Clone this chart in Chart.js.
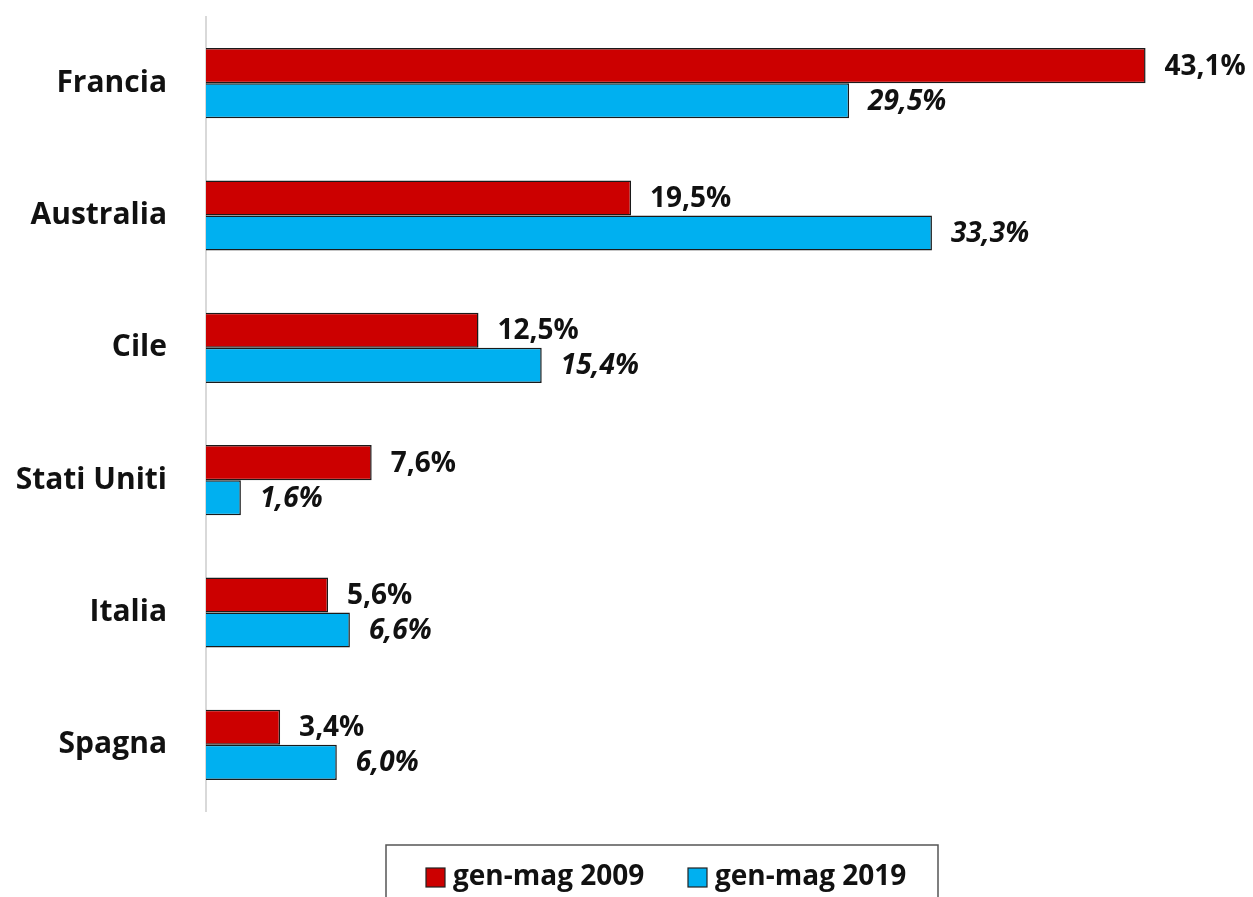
<!DOCTYPE html>
<html>
<head>
<meta charset="utf-8">
<script src="https://cdn.jsdelivr.net/npm/chart.js@4/dist/chart.umd.min.js"></script>
<style>
  html, body { margin: 0; padding: 0; background: #fff; }
  #wrap { width: 1253px; height: 897px; }
</style>
</head>
<body>
<div id="wrap"><canvas id="chart"></canvas></div>
<script>
const paesi = ['Francia', 'Australia', 'Cile', 'Stati Uniti', 'Italia', 'Spagna']
const quota2009 = [43.1, 19.5, 12.5, 7.6, 5.6, 3.4]
const quota2019 = [29.5, 33.3, 15.4, 1.6, 6.6, 6.0]
const serie = ['gen-mag 2009', 'gen-mag 2019']
const colori = ['#cc0000', '#00b0f0']

const FONT = "'Open Sans', sans-serif"

const fmt = v => v.toFixed(1).replace('.', ',') + '%'

// etichette a destra delle barre
const valueLabels = {
    id: 'valueLabels',
    afterDatasetsDraw(chart) {
        const ctx = chart.ctx
        ctx.save()
        chart.data.datasets.forEach((ds, i) => {
            const meta = chart.getDatasetMeta(i)
            ctx.font = (i === 1 ? 'italic ' : '') + 'bold 28px ' + FONT
            ctx.fillStyle = '#111'
            ctx.textAlign = 'left'
            ctx.textBaseline = 'middle'
            meta.data.forEach((bar, j) => {
                ctx.fillText(fmt(ds.data[j]), bar.x + 19, bar.y + 1)
            })
        })
        ctx.restore()
    }
}

// legenda in basso con riquadro
const boxLegend = {
    id: 'boxLegend',
    afterDraw(chart) {
        const ctx = chart.ctx
        ctx.save()
        ctx.strokeStyle = '#555'
        ctx.lineWidth = 1.5
        ctx.strokeRect(386, 845, 552, 70)
        ctx.font = 'bold 28px ' + FONT
        ctx.textBaseline = 'middle'
        const xs = [426, 688]
        chart.data.datasets.forEach((ds, i) => {
            ctx.fillStyle = ds.backgroundColor
            ctx.fillRect(xs[i], 868, 19, 19)
            ctx.strokeStyle = '#222'
            ctx.lineWidth = 1.2
            ctx.strokeRect(xs[i], 868, 19, 19)
            ctx.fillStyle = '#111'
            ctx.fillText(ds.label, xs[i] + 27, 877)
        })
        ctx.restore()
    }
}

new Chart(document.getElementById('chart'), {
    type: 'bar',
    data: {
        labels: paesi,
        datasets: [
            { label: serie[0], data: quota2009, backgroundColor: colori[0] },
            { label: serie[1], data: quota2019, backgroundColor: colori[1] }
        ]
    },
    options: {
        indexAxis: 'y',
        responsive: true,
        maintainAspectRatio: false,
        animation: false,
        layout: { padding: { top: 17, bottom: 86, right: 66, left: 0 } },
        datasets: {
            bar: {
                categoryPercentage: 0.53,
                barPercentage: 1.0,
                borderColor: '#1a1a1a',
                borderWidth: 1.5
            }
        },
        scales: {
            x: {
                display: false,
                min: 0,
                max: 45
            },
            y: {
                afterFit: (scale) => {
                    scale.width = 206
                    scale.paddingTop = 0
                    scale.paddingBottom = 0
                },
                grid: { display: false, drawTicks: false },
                border: { display: true, color: '#d9d9d9', width: 2 },
                ticks: {
                    color: '#111',
                    padding: 39,
                    font: { family: FONT, size: 30, weight: 'bold' }
                }
            }
        },
        plugins: {
            legend: { display: false },
            tooltip: { enabled: false }
        }
    },
    plugins: [valueLabels, boxLegend]
})
</script>
</body>
</html>
